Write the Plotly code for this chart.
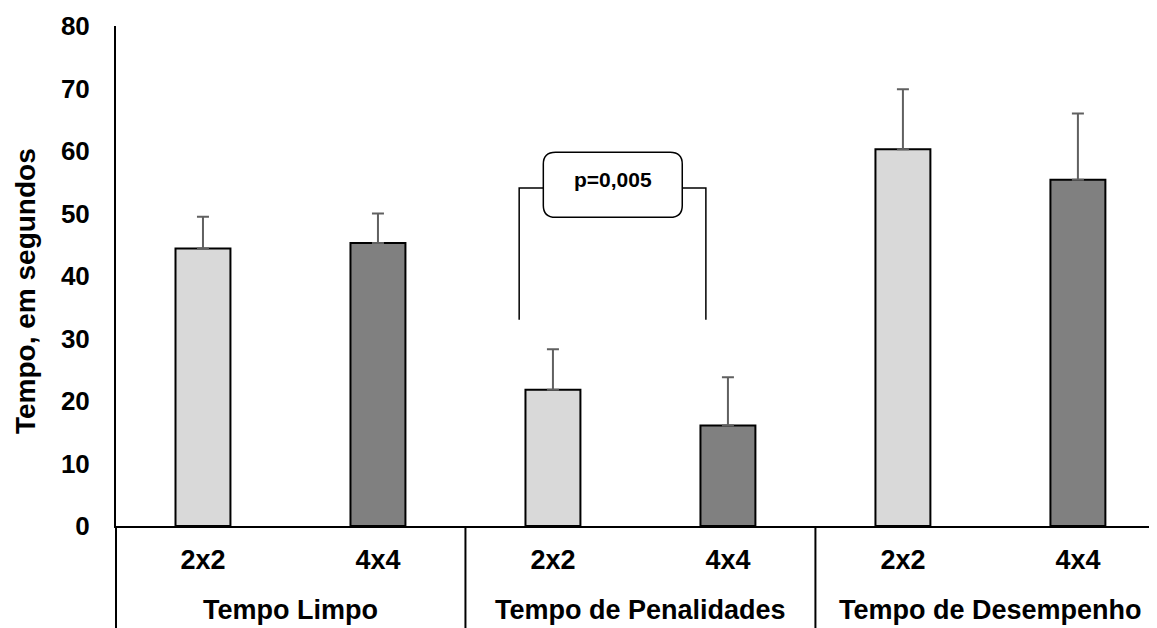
import plotly.graph_objects as go

# ---- data ----
groups = ["Tempo Limpo", "Tempo de Penalidades", "Tempo de Desempenho"]
sub_labels = ["2x2", "4x4"]
mean_2x2 = [44.4, 21.8, 60.3]
mean_4x4 = [45.3, 16.1, 55.4]
err_2x2 = [5.1, 6.5, 9.6]
err_4x4 = [4.7, 7.7, 10.6]
y_ticks = [0, 10, 20, 30, 40, 50, 60, 70, 80]
y_title = "Tempo, em segundos"
p_label = "p=0,005"

# comparison bracket between the two "Tempo de Penalidades" bars
bracket_bottom = 33.0
bracket_top = 54.1
box_bottom = 49.4
box_top = 59.8

FONT = "Arial, 'Liberation Sans', sans-serif"
COL_LIGHT = "#D9D9D9"
COL_DARK = "#808080"

x_2x2 = [2 * i for i in range(len(groups))]
x_4x4 = [2 * i + 1 for i in range(len(groups))]
all_x = sorted(x_2x2 + x_4x4)
tick_text = [sub_labels[x % 2] for x in all_x]

X_MIN, X_MAX = -0.497, 5.452
BAR_W = 0.314

fig = go.Figure()
err_style = dict(type="data", symmetric=False, color="#606060", thickness=2, width=6)
fig.add_trace(go.Bar(
    x=x_2x2, y=mean_2x2, width=BAR_W, name="2x2",
    marker=dict(color=COL_LIGHT, line=dict(color="black", width=2)),
    error_y=dict(array=err_2x2, arrayminus=[0] * len(err_2x2), **err_style),
))
fig.add_trace(go.Bar(
    x=x_4x4, y=mean_4x4, width=BAR_W, name="4x4",
    marker=dict(color=COL_DARK, line=dict(color="black", width=2)),
    error_y=dict(array=err_4x4, arrayminus=[0] * len(err_4x4), **err_style),
))

# bracket
xl = x_2x2[1] - 0.193
xr = x_4x4[1] - 0.126
bx0, bx1 = x_2x2[1] - 0.055, x_4x4[1] - 0.261
ybr = bracket_top
fig.add_shape(type="path",
              path=f"M {xl},{bracket_bottom} L {xl},{ybr} L {xr},{ybr} L {xr},{bracket_bottom}",
              xref="x", yref="y", line=dict(color="black", width=1.5))
rx, ry = 0.07, 1.9
path = (f"M {bx0+rx},{box_top} L {bx1-rx},{box_top} Q {bx1},{box_top} {bx1},{box_top-ry} "
        f"L {bx1},{box_bottom+ry} Q {bx1},{box_bottom} {bx1-rx},{box_bottom} "
        f"L {bx0+rx},{box_bottom} Q {bx0},{box_bottom} {bx0},{box_bottom+ry} "
        f"L {bx0},{box_top-ry} Q {bx0},{box_top} {bx0+rx},{box_top} Z")
fig.add_shape(type="path", path=path, xref="x", yref="y",
              fillcolor="white", line=dict(color="black", width=1.5))
fig.add_annotation(x=(bx0 + bx1) / 2, y=(box_top + box_bottom) / 2 + 0.8, xref="x", yref="y",
                   text=p_label, showarrow=False,
                   font=dict(family=FONT, size=21, color="black", weight="bold"))

# separators below the x axis
def xpaper(x):
    return (x - X_MIN) / (X_MAX - X_MIN)

YB = -0.204
for xs in [X_MIN, 1.5, 3.5]:
    fig.add_shape(type="line", xref="paper", yref="paper",
                  x0=xpaper(xs), x1=xpaper(xs), y0=0, y1=YB,
                  line=dict(color="black", width=2))

# group labels
for i, g in enumerate(groups):
    fig.add_annotation(x=(x_2x2[i] + x_4x4[i]) / 2, y=-0.168, xref="x", yref="paper",
                       text=g, showarrow=False, yanchor="middle",
                       font=dict(family=FONT, size=27, color="black", weight="bold"))

# y title
fig.add_annotation(x=-0.0874, y=0.47, xref="paper", yref="paper", text=y_title,
                   textangle=-90, showarrow=False, xanchor="center", yanchor="middle",
                   font=dict(family=FONT, size=28, color="black", weight="bold"))

# the page body has an 8px margin, so the figure is 8px smaller
fig.update_layout(
    width=1149, height=620,
    margin=dict(l=108, r=0, t=18, b=102),
    plot_bgcolor="white", paper_bgcolor="white",
    showlegend=False, barmode="overlay",
    font=dict(family=FONT, color="black"),
)
fig.update_xaxes(range=[X_MIN, X_MAX], tickvals=all_x, ticktext=tick_text,
                 showline=True, linecolor="black", linewidth=2, showgrid=False,
                 zeroline=False, ticks="", ticklabelstandoff=9,
                 tickfont=dict(family=FONT, size=27, color="black", weight="bold"))
fig.update_yaxes(range=[0, 80], tickvals=y_ticks, showline=True, linecolor="black",
                 linewidth=2, showgrid=False, zeroline=False, ticks="",
                 ticklabelstandoff=19,
                 tickfont=dict(family=FONT, size=26, color="black", weight="bold"))

fig.write_html("out.html")
